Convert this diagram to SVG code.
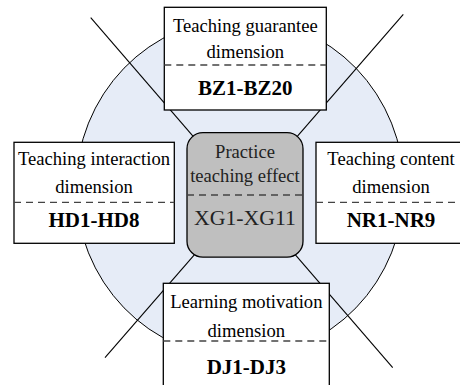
<svg xmlns="http://www.w3.org/2000/svg" width="460" height="385" viewBox="0 0 460 385">
<style>
.box{fill:#fff;stroke:#000;stroke-width:1.3}
.core{fill:#bfbfbf;stroke:#000;stroke-width:1.3}
.dash{stroke:#444;stroke-width:1.3;stroke-dasharray:7 5;fill:none}
.ln{stroke:#000;stroke-width:1.1;fill:none}
text{font-family:"Liberation Serif","Times New Roman",serif;text-anchor:middle;fill:#000}
.t{font-size:18.6px}
.b{font-size:21px;font-weight:bold}
.g{fill:#222}
</style>
<rect width="460" height="385" fill="#fff"/>
<ellipse cx="240" cy="188" rx="164" ry="169.5" fill="#e6ecf7" stroke="#000" stroke-width="1"/>
<g id="connectors">
<line class="ln" x1="90.7" y1="17.7" x2="392.7" y2="367.7"/>
<line class="ln" x1="403.3" y1="14.3" x2="105" y2="357.7"/>
</g>
<g id="guarantee">
<rect class="box" x="164.3" y="7.3" width="162" height="102.7"/>
<line class="dash" x1="164.3" y1="65" x2="326.3" y2="65"/>
<text class="t" x="245.3" y="32.3">Teaching guarantee</text>
<text class="t" x="245.3" y="58.3">dimension</text>
<text class="b" x="245.3" y="95">BZ1-BZ20</text>
</g>
<g id="interaction">
<rect class="box" x="14" y="142.3" width="160.3" height="101"/>
<line class="dash" x1="14" y1="202.3" x2="174.3" y2="202.3"/>
<text class="t" x="94" y="165">Teaching interaction</text>
<text class="t" x="94" y="193.3">dimension</text>
<text class="b" x="94" y="226.7">HD1-HD8</text>
</g>
<g id="content">
<rect class="box" x="316" y="142.3" width="152" height="101"/>
<line class="dash" x1="316" y1="202.3" x2="468" y2="202.3"/>
<text class="t" x="391" y="165">Teaching content</text>
<text class="t" x="391" y="193.3">dimension</text>
<text class="b" x="391" y="226.7">NR1-NR9</text>
</g>
<g id="effect">
<rect class="core" x="187" y="132.7" width="116" height="124.5" rx="16" ry="16"/>
<line class="dash" x1="187" y1="195" x2="303" y2="195"/>
<text class="t g" x="245" y="158.3">Practice</text>
<text class="t g" x="245" y="181.7">teaching effect</text>
<text class="g" x="245" y="225" font-size="20" textLength="102" lengthAdjust="spacingAndGlyphs">XG1-XG11</text>
</g>
<g id="motivation">
<rect class="box" x="163.3" y="283.3" width="166" height="110"/>
<line class="dash" x1="163.3" y1="341" x2="329.3" y2="341"/>
<text class="t" x="246.3" y="308.3">Learning motivation</text>
<text class="t" x="246.3" y="336.7">dimension</text>
<text class="b" x="246.3" y="374.3">DJ1-DJ3</text>
</g>
</svg>
